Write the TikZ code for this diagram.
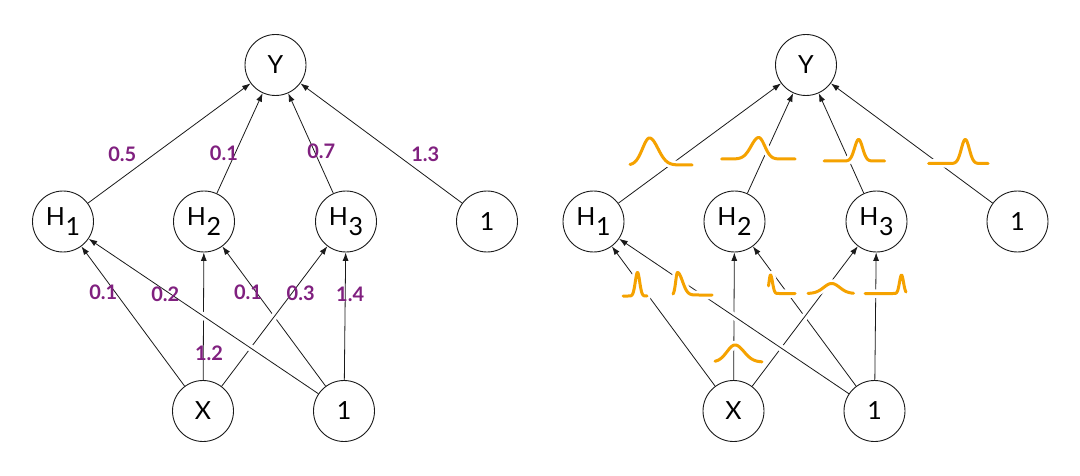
\documentclass[tikz,border=0pt]{standalone}
\usepackage{fontspec}
\setmainfont{Lato}
\usetikzlibrary{arrows.meta}
\definecolor{wpurple}{HTML}{80207F}
\definecolor{dorange}{HTML}{F5A200}
\definecolor{edgecol}{HTML}{1A1A1A}
\newcommand{\hsub}[1]{H\kern0.5pt\raisebox{-10pt}{#1}}
\newcommand{\gcurve}[7]{%
  \draw[curvehalo] plot[domain=#1:#2,samples=120]
    (\x,{#4-#5*exp(max(-15,-((\x-#3)^2)/(2*(((\x<#3)?#6:#7)^2))))});
  \draw[curveline] plot[domain=#1:#2,samples=120]
    (\x,{#4-#5*exp(max(-15,-((\x-#3)^2)/(2*(((\x<#3)?#6:#7)^2))))});
}
\tikzset{
  neuron/.style={circle,draw=edgecol,line width=0.9pt,fill=white,minimum size=61pt,inner sep=0pt,font=\fontsize{25}{25}\selectfont},
  edge/.style={draw=edgecol,line width=0.8pt,-{Latex[length=8.5pt,width=6pt]}},
  halo/.style={draw=white,line width=7pt,shorten <=8pt,shorten >=12pt},
  wlabel/.style={text=wpurple,font=\fontsize{20}{20}\selectfont\bfseries,inner sep=0.5pt},
  curvehalo/.style={draw=white,line width=8.5pt,line cap=round,line join=round},
  curveline/.style={draw=dorange,line width=3pt,line cap=round,line join=round},
}
\begin{document}
\begin{tikzpicture}[x=1pt,y=-1pt]
\fill[white] (0,0) rectangle (1080,476);
\useasboundingbox (0,0) rectangle (1080,476);
% ---------- left network ----------
\node[neuron] (Y)  at (275.5,65)  {Y};
\node[neuron] (H1) at (63,221.5)  {\hsub{1}};
\node[neuron] (H2) at (204,221.5) {\hsub{2}};
\node[neuron] (H3) at (346,221.5) {\hsub{3}};
\node[neuron] (B1) at (487,221.5) {1};
\node[neuron] (X)  at (203,411)   {X};
\node[neuron] (B0) at (344,411)   {1};
\foreach \a/\b in {X/H1, X/H2, B0/H2, X/H3, B0/H1, B0/H3, H1/Y, H2/Y, H3/Y, B1/Y}{
  \draw[halo] (\a) -- (\b);
  \draw[edge] (\a) -- (\b);
}
\node[wlabel] (l1)  at (122.3,154.5) {0.5};
\node[wlabel] (l2)  at (223.9,152.8) {0.1};
\node[wlabel] (l3)  at (321.3,151.1) {0.7};
\node[wlabel] (l4)  at (425.3,154.5) {1.3};
\node[wlabel] (l5)  at (103.3,292.5) {0.1};
\node[wlabel] (l6)  at (165.3,294)   {0.2};
\node[wlabel] (l7)  at (248,292.5)   {0.1};
\node[wlabel] (l8)  at (300.7,293.5) {0.3};
\node[wlabel] (l9)  at (350.2,294)   {1.4};
\node[wlabel] (l10) at (209,353)     {1.2};
% ---------- right network ----------
\node[neuron] (RY)  at (806,65)     {Y};
\node[neuron] (RH1) at (593.5,221.5) {\hsub{1}};
\node[neuron] (RH2) at (734.5,221.5) {\hsub{2}};
\node[neuron] (RH3) at (876.5,221.5) {\hsub{3}};
\node[neuron] (RB1) at (1017.5,221.5) {1};
\node[neuron] (RX)  at (733.5,411)   {X};
\node[neuron] (RB0) at (874.5,411)   {1};
\foreach \a/\b in {RX/RH1, RX/RH2, RB0/RH2, RX/RH3, RB0/RH1, RB0/RH3, RH1/RY, RH2/RY, RH3/RY, RB1/RY}{
  \draw[halo] (\a) -- (\b);
  \draw[edge] (\a) -- (\b);
}
% weight distributions
\gcurve{630}{692}{649.5}{165}{27}{7}{8.5}
\gcurve{721.5}{795}{758.7}{159}{21.5}{7.5}{6}
\gcurve{824}{884.5}{858.6}{161}{21.5}{4}{4}
\gcurve{928.5}{988}{965.3}{163.5}{24}{4}{4}
\gcurve{623}{647}{637.5}{296}{23.5}{2.2}{2.2}
\gcurve{673}{712}{677.5}{295}{22.5}{1.8}{5}
\gcurve{768.5}{795}{770.5}{293.5}{18.5}{1.5}{2}
\gcurve{808}{853.5}{831.7}{293.5}{10}{8}{8}
\gcurve{865}{906}{901.5}{293.5}{18.5}{2}{2}
\gcurve{715}{762}{735}{362}{17}{8}{9}
\end{tikzpicture}
\end{document}
